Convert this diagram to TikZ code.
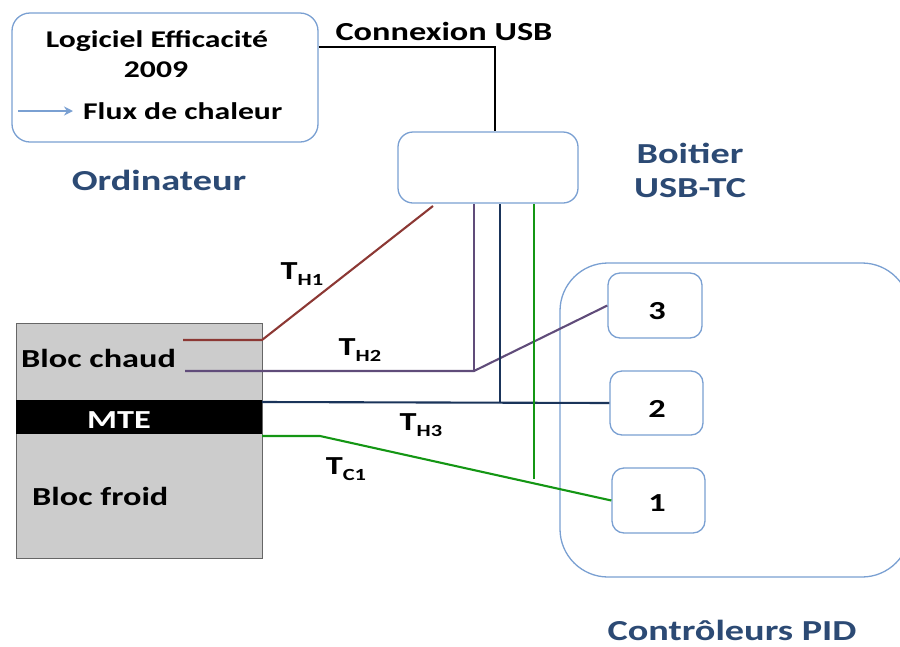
\documentclass[tikz,border=0pt]{standalone}
\usepackage{fontspec}
\setmainfont{Carlito}
\newfontfamily\lblfont[FakeStretch=1.32]{Carlito}
\usetikzlibrary{arrows.meta,calc}

\definecolor{boxblue}{RGB}{122,160,210}
\definecolor{titleblue}{RGB}{44,74,116}
\definecolor{wbrown}{RGB}{140,56,52}
\definecolor{wpurple}{RGB}{96,76,122}
\definecolor{wnavy}{RGB}{26,52,90}
\definecolor{wgreen}{RGB}{20,150,20}

\newcommand{\tlab}[1]{T\raisebox{-0.45ex}{\fontsize{17}{17}\selectfont #1}}

\tikzset{
  rbox/.style={draw=boxblue,line width=1.3pt,fill=white,rounded corners=#1},
  rbox/.default=18pt,
  body/.style={font=\lblfont\bfseries\fontsize{24}{27}\selectfont,inner sep=0pt},
  bigbody/.style={font=\lblfont\bfseries\fontsize{26}{29}\selectfont,inner sep=0pt},
  title/.style={font=\lblfont\bfseries\fontsize{29}{32}\selectfont,text=titleblue,inner sep=0pt},
  wire/.style={line width=2.1pt}
}

\begin{document}
\begin{tikzpicture}[x=1pt,y=-1pt]
\useasboundingbox (0,0) rectangle (900,646);

% ordinateur
\node[rbox,minimum width=306,minimum height=129] (ordi) at (165,77.5) {};
\node[body] (logi) at (157,41) {Logiciel Efficacité};
\node[body] (annee) at (156,70) {2009};
\node[body,anchor=west] (flux) at (83,111) {Flux de chaleur};
\draw[boxblue,line width=1.6pt,-{Stealth[length=9pt,width=9pt]}] (18,111) -- ([xshift=-10pt]flux.west);
\node[title] (ordilab) at (159,180) {Ordinateur};

% boitier
\node[rbox=15pt,minimum width=180,minimum height=71] (boit) at (488,167.5) {};
\node[title] (boitlab) at (690,153) {Boitier};
\node[title] (usbtc) at (690,188) {USB-TC};

% usb
\node[bigbody] (usblab) at (444,31) {Connexion USB};
\coordinate (usbturn) at (495,47);
\draw[wire,black] (ordi.east |- usbturn) -- (usbturn) -- (usbturn |- boit.north);

% bloc
\node[draw=gray!80!black,fill=black!20,minimum width=246,minimum height=235,inner sep=0pt] (bloc) at (139,440.5) {};
\node[fill=black,minimum width=246,minimum height=34,inner sep=0pt] (mte) at (139,417) {};
\node[bigbody,text=white] at (119,420) {MTE};
\node[bigbody,anchor=west] (chaud) at (21,358) {Bloc chaud};
\node[bigbody,anchor=west] (froid) at (32,496) {Bloc froid};

% controleurs
\node[rbox=48pt,minimum width=350,minimum height=314] (pid) at (735,420) {};
\node[rbox=12pt,minimum width=94,minimum height=65] (c3) at (655,305.5) {};
\node[rbox=12pt,minimum width=93,minimum height=64] (c2) at (656.5,403) {};
\node[rbox=12pt,minimum width=93,minimum height=65] (c1) at (658.5,500.5) {};
\node[bigbody] at (657,311) {3};
\node[bigbody] at (657,409) {2};
\node[bigbody] at (657,503) {1};
\node[title,anchor=base] (pidlab) at (732,640) {Contrôleurs PID};

% fils
\coordinate (h1) at (262,340);
\coordinate (h2) at (474,371);
\coordinate (h3) at (500,402);
\coordinate (tc) at (320,436);
\draw[wire,wbrown] (183,340) -- (h1) -- (433,206);
\draw[wire,wpurple] (185,371) -- (h2) -- (c3.west);
\draw[wire,wpurple] (h2) -- (h2 |- boit.south);
\draw[wire,wnavy] (bloc.east |- h3) -- (c2.west);
\draw[wire,wnavy] (h3) -- (h3 |- boit.south);
\draw[wire,wgreen] (bloc.east |- tc) -- (tc) -- (c1.west);
\draw[wire,wgreen] (534,479) -- (534,203.5);

% labels
\node[bigbody] at (302,274) {\tlab{H1}};
\node[bigbody] at (360,350) {\tlab{H2}};
\node[bigbody] at (421,425) {\tlab{H3}};
\node[bigbody] at (346,469) {\tlab{C1}};
\end{tikzpicture}
\end{document}
